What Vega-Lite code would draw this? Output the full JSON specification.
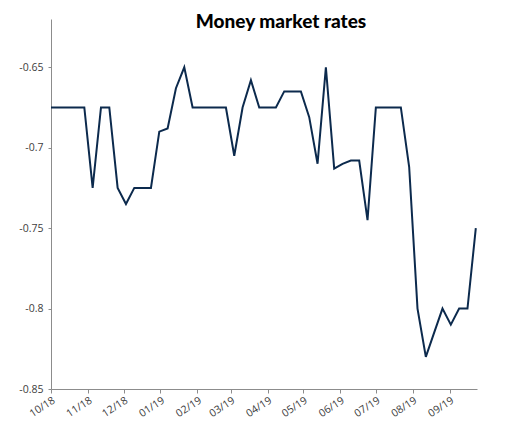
{
  "$schema": "https://vega.github.io/schema/vega-lite/v6.json",
  "width": 426,
  "height": 370,
  "autosize": "none",
  "padding": {"left": 51, "top": 19, "right": 32, "bottom": 33},
  "background": "white",
  "title": {
    "text": "Money market rates",
    "font": "Lato",
    "fontWeight": 900,
    "fontSize": 19,
    "color": "black",
    "anchor": "middle",
    "dx": 17,
    "offset": -13
  },
  "data": {
    "values": [
      {"date": "2018-10-01", "rate": -0.675},
      {"date": "2018-10-08", "rate": -0.675},
      {"date": "2018-10-15", "rate": -0.675},
      {"date": "2018-10-22", "rate": -0.675},
      {"date": "2018-10-29", "rate": -0.675},
      {"date": "2018-11-05", "rate": -0.725},
      {"date": "2018-11-12", "rate": -0.675},
      {"date": "2018-11-19", "rate": -0.675},
      {"date": "2018-11-26", "rate": -0.725},
      {"date": "2018-12-03", "rate": -0.735},
      {"date": "2018-12-10", "rate": -0.725},
      {"date": "2018-12-17", "rate": -0.725},
      {"date": "2018-12-24", "rate": -0.725},
      {"date": "2018-12-31", "rate": -0.69},
      {"date": "2019-01-07", "rate": -0.688},
      {"date": "2019-01-14", "rate": -0.663},
      {"date": "2019-01-21", "rate": -0.65},
      {"date": "2019-01-28", "rate": -0.675},
      {"date": "2019-02-04", "rate": -0.675},
      {"date": "2019-02-11", "rate": -0.675},
      {"date": "2019-02-18", "rate": -0.675},
      {"date": "2019-02-25", "rate": -0.675},
      {"date": "2019-03-04", "rate": -0.705},
      {"date": "2019-03-11", "rate": -0.675},
      {"date": "2019-03-18", "rate": -0.658},
      {"date": "2019-03-25", "rate": -0.675},
      {"date": "2019-04-01", "rate": -0.675},
      {"date": "2019-04-08", "rate": -0.675},
      {"date": "2019-04-15", "rate": -0.665},
      {"date": "2019-04-22", "rate": -0.665},
      {"date": "2019-04-29", "rate": -0.665},
      {"date": "2019-05-06", "rate": -0.681},
      {"date": "2019-05-13", "rate": -0.71},
      {"date": "2019-05-20", "rate": -0.65},
      {"date": "2019-05-27", "rate": -0.713},
      {"date": "2019-06-03", "rate": -0.71},
      {"date": "2019-06-10", "rate": -0.708},
      {"date": "2019-06-17", "rate": -0.708},
      {"date": "2019-06-24", "rate": -0.745},
      {"date": "2019-07-01", "rate": -0.675},
      {"date": "2019-07-08", "rate": -0.675},
      {"date": "2019-07-15", "rate": -0.675},
      {"date": "2019-07-22", "rate": -0.675},
      {"date": "2019-07-29", "rate": -0.712},
      {"date": "2019-08-05", "rate": -0.8},
      {"date": "2019-08-12", "rate": -0.83},
      {"date": "2019-08-19", "rate": -0.815},
      {"date": "2019-08-26", "rate": -0.8},
      {"date": "2019-09-02", "rate": -0.81},
      {"date": "2019-09-09", "rate": -0.8},
      {"date": "2019-09-16", "rate": -0.8},
      {"date": "2019-09-23", "rate": -0.75}
    ]
  },
  "mark": {"type": "line", "color": "#0c2a4d", "strokeWidth": 2},
  "encoding": {
    "x": {
      "field": "date",
      "type": "temporal",
      "scale": {"type": "utc", "domain": ["2018-10-01", "2019-09-24"], "nice": false},
      "axis": {
        "title": null,
        "format": "%m/%y",
        "tickCount": {"interval": "month", "step": 1},
        "labelAngle": -33,
        "grid": false,
        "domainColor": "#8c8c8c",
        "tickColor": "#8c8c8c",
        "tickSize": 4,
        "labelFont": "Open Sans",
        "labelFontSize": 10.5,
        "labelColor": "#404040",
        "labelPadding": 2
      }
    },
    "y": {
      "field": "rate",
      "type": "quantitative",
      "scale": {"domain": [-0.85, -0.62], "nice": false, "zero": false},
      "axis": {
        "title": null,
        "values": [-0.85, -0.8, -0.75, -0.7, -0.65],
        "labelExpr": "toString(datum.value)",
        "grid": false,
        "domainColor": "#8c8c8c",
        "tickColor": "#8c8c8c",
        "tickSize": 3,
        "labelFont": "Open Sans",
        "labelFontSize": 10.5,
        "labelColor": "#404040",
        "labelPadding": 5
      }
    }
  },
  "config": {"view": {"stroke": null}}
}
